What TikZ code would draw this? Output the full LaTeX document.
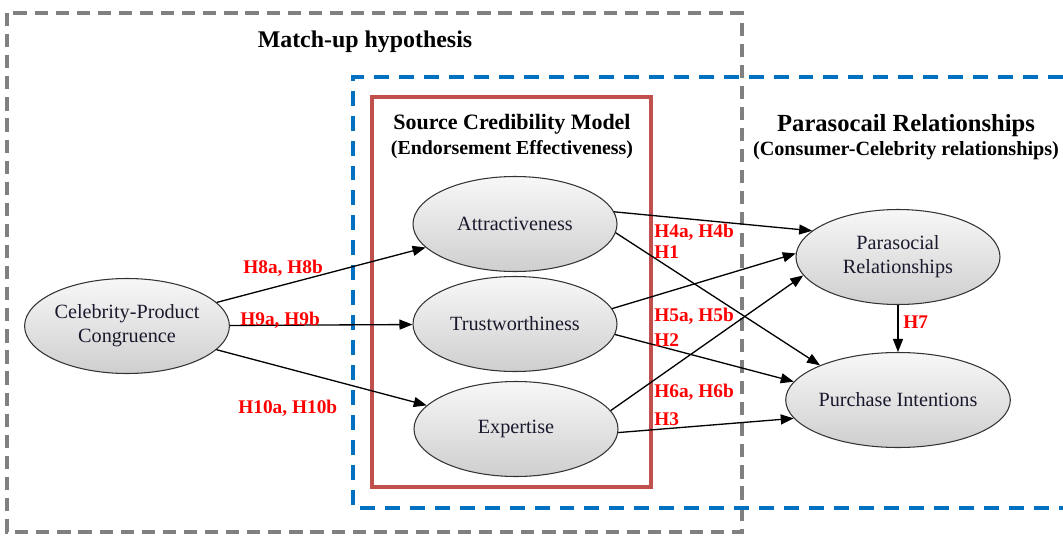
\documentclass[tikz,border=0pt]{standalone}
\usepackage{fontspec}
\setmainfont{Liberation Serif}
\usetikzlibrary{arrows.meta,shapes.geometric,positioning}
\definecolor{boxgray}{RGB}{128,128,128}
\definecolor{boxblue}{RGB}{0,112,192}
\definecolor{boxred}{RGB}{192,80,77}
\definecolor{ovaltext}{RGB}{25,25,45}
\tikzset{
  construct/.style={ellipse,draw=black!80,line width=0.6pt,top color=gray!6,bottom color=gray!38,
    minimum width=40.8mm,minimum height=19mm,inner sep=0pt,align=center,
    text=ovaltext,font=\fontsize{11.5}{13.6}\selectfont},
  hyp/.style={text=red,font=\bfseries\fontsize{11}{13}\selectfont,anchor=west,inner sep=0pt},
  link/.style={-{Triangle[length=2.6mm,width=2mm]},line width=0.75pt},
}
\begin{document}
\begin{tikzpicture}[x=0.2mm,y=-0.2mm]
\useasboundingbox (0,0) rectangle (1063,536);
%
% frames
\draw[boxgray,line width=2pt,dash pattern=on 7.5pt off 4.5pt] (7,13) rectangle (742,532);
\draw[boxblue,line width=2pt,dash pattern=on 8.5pt off 5.7pt] (1063,77)--(353,77)--(353,508)--(1063,508);
\draw[boxred,line width=2.3pt] (372,97) rectangle (651,487);
%
% titles
\node[font=\bfseries\fontsize{13.6}{16}\selectfont] (matchup) at (365,42) {Match-up hypothesis};
\node[font=\bfseries\fontsize{12.5}{15}\selectfont] (scm) at (512,124) {Source Credibility Model};
\node[font=\bfseries\fontsize{11.3}{13}\selectfont] (scmsub) at (512,150) {(Endorsement Effectiveness)};
\node[font=\bfseries\fontsize{14}{16}\selectfont] (psr) at (906,126) {Parasocail Relationships};
\node[font=\bfseries\fontsize{11.5}{13}\selectfont] (psrsub) at (906,151) {(Consumer-Celebrity relationships)};
%
% constructs
\node[construct] (cong) at (127,326) {Celebrity-Product\\Congruence};
\node[construct] (attr) at (515,224) {Attractiveness};
\node[construct] (trust) at (515,324) {Trustworthiness};
\node[construct] (expt) at (516,429) {Expertise};
\node[construct] (para) at (898,257) {Parasocial\\Relationships};
\node[construct] (purch) at (898,400) {Purchase Intentions};
%
% paths
\foreach \b in {attr,trust,expt}
\draw[link] (cong) -- (\b);
\foreach \a/\b in {attr.7/para.163,attr.-5/purch.156,trust.9/para.178,
  trust.-6/purch.170,expt.11/para.-169,expt.-2/purch.190}
\draw[link] (\a) -- (\b);
\draw[link] (para) -- (purch);
%
% hypotheses
\node[hyp] (h8) at (243,268) {H8a, H8b};
\node[hyp] (h9) at (240,320) {H9a, H9b};
\node[hyp] (h10) at (238,408) {H10a, H10b};
\node[hyp] (h4) at (654,232) {H4a, H4b};
\node[hyp] (h1) at (654,252) {H1};
\node[hyp] (h5) at (654,316) {H5a, H5b};
\node[hyp] (h2) at (654,340) {H2};
\node[hyp] (h6) at (654,392) {H6a, H6b};
\node[hyp] (h3) at (654,419) {H3};
\node[hyp] (h7) at (903,322) {H7};
\end{tikzpicture}
\end{document}
